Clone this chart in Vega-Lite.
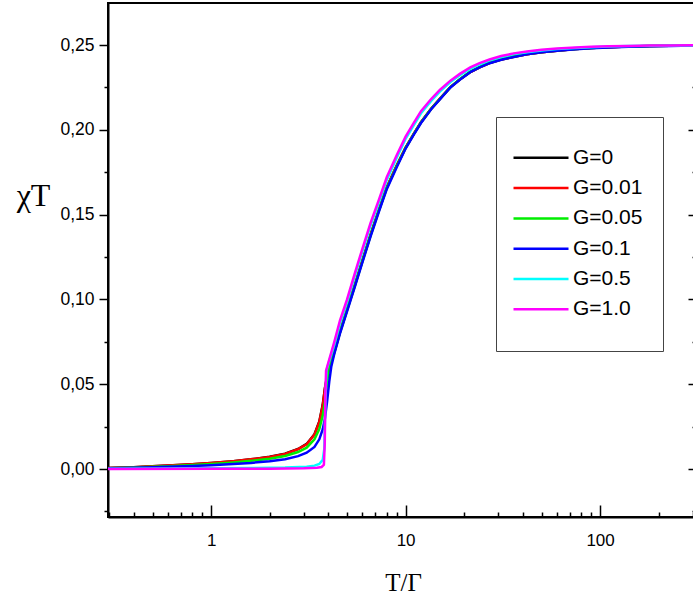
{
"$schema": "https://vega.github.io/schema/vega-lite/v6.json",
"width": 589, "height": 514,
"autosize": "none",
"padding": {"left": 108, "top": 3, "right": 0, "bottom": 87},
"background": "white",
"config": {"view": {"stroke": "black", "strokeWidth": 2}, "font": "Liberation Sans"},
"datasets": {
"curves": [
{"G":"G=0","T":0.295,"chiT":0.0006},{"G":"G=0","T":0.4,"chiT":0.0011},{"G":"G=0","T":0.5,"chiT":0.0016},{"G":"G=0","T":0.6,"chiT":0.0020},{"G":"G=0","T":0.8,"chiT":0.0028},{"G":"G=0","T":1.0,"chiT":0.0035},{"G":"G=0","T":1.3,"chiT":0.0046},{"G":"G=0","T":1.6,"chiT":0.0057},{"G":"G=0","T":2.0,"chiT":0.0072},{"G":"G=0","T":2.4,"chiT":0.0090},{"G":"G=0","T":2.8,"chiT":0.0118},{"G":"G=0","T":3.1,"chiT":0.0148},{"G":"G=0","T":3.4,"chiT":0.0205},{"G":"G=0","T":3.6,"chiT":0.0280},{"G":"G=0","T":3.75,"chiT":0.0380},{"G":"G=0","T":3.85,"chiT":0.0480},
{"G":"G=0","T":4.0,"chiT":0.058},{"G":"G=0","T":4.3,"chiT":0.069},{"G":"G=0","T":4.6,"chiT":0.081},{"G":"G=0","T":5.0,"chiT":0.094},{"G":"G=0","T":5.5,"chiT":0.109},{"G":"G=0","T":6.0,"chiT":0.123},{"G":"G=0","T":6.6,"chiT":0.138},{"G":"G=0","T":7.3,"chiT":0.153},{"G":"G=0","T":8.0,"chiT":0.166},{"G":"G=0","T":9.0,"chiT":0.179},{"G":"G=0","T":10,"chiT":0.1895},{"G":"G=0","T":11,"chiT":0.1975},{"G":"G=0","T":12,"chiT":0.2045},{"G":"G=0","T":13.5,"chiT":0.2123},{"G":"G=0","T":15,"chiT":0.2183},{"G":"G=0","T":17,"chiT":0.2252},{"G":"G=0","T":19,"chiT":0.2297},{"G":"G=0","T":21.5,"chiT":0.2341},{"G":"G=0","T":24,"chiT":0.2369},{"G":"G=0","T":27,"chiT":0.2394},{"G":"G=0","T":31,"chiT":0.2414},{"G":"G=0","T":36,"chiT":0.2431},{"G":"G=0","T":42,"chiT":0.2446},{"G":"G=0","T":50,"chiT":0.2458},{"G":"G=0","T":60,"chiT":0.2467},{"G":"G=0","T":75,"chiT":0.2476},{"G":"G=0","T":90,"chiT":0.2482},{"G":"G=0","T":110,"chiT":0.2487},{"G":"G=0","T":140,"chiT":0.2491},{"G":"G=0","T":180,"chiT":0.2494},{"G":"G=0","T":230,"chiT":0.2496},{"G":"G=0","T":315,"chiT":0.2498},

{"G":"G=0.01","T":0.295,"chiT":0.0006},{"G":"G=0.01","T":0.4,"chiT":0.0011},{"G":"G=0.01","T":0.5,"chiT":0.0016},{"G":"G=0.01","T":0.6,"chiT":0.0020},{"G":"G=0.01","T":0.8,"chiT":0.0028},{"G":"G=0.01","T":1.0,"chiT":0.0035},{"G":"G=0.01","T":1.3,"chiT":0.0046},{"G":"G=0.01","T":1.6,"chiT":0.0057},{"G":"G=0.01","T":2.0,"chiT":0.0071},{"G":"G=0.01","T":2.4,"chiT":0.0089},{"G":"G=0.01","T":2.8,"chiT":0.0117},{"G":"G=0.01","T":3.1,"chiT":0.0146},{"G":"G=0.01","T":3.4,"chiT":0.0203},{"G":"G=0.01","T":3.6,"chiT":0.0277},{"G":"G=0.01","T":3.75,"chiT":0.0375},{"G":"G=0.01","T":3.85,"chiT":0.0475},
{"G":"G=0.01","T":4.0,"chiT":0.058},{"G":"G=0.01","T":4.3,"chiT":0.069},{"G":"G=0.01","T":4.6,"chiT":0.081},{"G":"G=0.01","T":5.0,"chiT":0.094},{"G":"G=0.01","T":5.5,"chiT":0.109},{"G":"G=0.01","T":6.0,"chiT":0.123},{"G":"G=0.01","T":6.6,"chiT":0.138},{"G":"G=0.01","T":7.3,"chiT":0.153},{"G":"G=0.01","T":8.0,"chiT":0.166},{"G":"G=0.01","T":9.0,"chiT":0.179},{"G":"G=0.01","T":10,"chiT":0.1895},{"G":"G=0.01","T":11,"chiT":0.1975},{"G":"G=0.01","T":12,"chiT":0.2045},{"G":"G=0.01","T":13.5,"chiT":0.2123},{"G":"G=0.01","T":15,"chiT":0.2183},{"G":"G=0.01","T":17,"chiT":0.2252},{"G":"G=0.01","T":19,"chiT":0.2297},{"G":"G=0.01","T":21.5,"chiT":0.2341},{"G":"G=0.01","T":24,"chiT":0.2369},{"G":"G=0.01","T":27,"chiT":0.2394},{"G":"G=0.01","T":31,"chiT":0.2414},{"G":"G=0.01","T":36,"chiT":0.2431},{"G":"G=0.01","T":42,"chiT":0.2446},{"G":"G=0.01","T":50,"chiT":0.2458},{"G":"G=0.01","T":60,"chiT":0.2467},{"G":"G=0.01","T":75,"chiT":0.2476},{"G":"G=0.01","T":90,"chiT":0.2482},{"G":"G=0.01","T":110,"chiT":0.2487},{"G":"G=0.01","T":140,"chiT":0.2491},{"G":"G=0.01","T":180,"chiT":0.2494},{"G":"G=0.01","T":230,"chiT":0.2496},{"G":"G=0.01","T":315,"chiT":0.2498},

{"G":"G=0.05","T":0.295,"chiT":0.0005},{"G":"G=0.05","T":0.4,"chiT":0.0009},{"G":"G=0.05","T":0.5,"chiT":0.0013},{"G":"G=0.05","T":0.6,"chiT":0.0017},{"G":"G=0.05","T":0.8,"chiT":0.0024},{"G":"G=0.05","T":1.0,"chiT":0.0030},{"G":"G=0.05","T":1.3,"chiT":0.0039},{"G":"G=0.05","T":1.6,"chiT":0.0048},{"G":"G=0.05","T":2.0,"chiT":0.0061},{"G":"G=0.05","T":2.4,"chiT":0.0077},{"G":"G=0.05","T":2.8,"chiT":0.0100},{"G":"G=0.05","T":3.1,"chiT":0.0126},{"G":"G=0.05","T":3.4,"chiT":0.0175},{"G":"G=0.05","T":3.6,"chiT":0.0235},{"G":"G=0.05","T":3.75,"chiT":0.0315},{"G":"G=0.05","T":3.85,"chiT":0.0400},{"G":"G=0.05","T":3.95,"chiT":0.0510},
{"G":"G=0.05","T":4.0,"chiT":0.0565},{"G":"G=0.05","T":4.3,"chiT":0.0685},{"G":"G=0.05","T":4.6,"chiT":0.0805},{"G":"G=0.05","T":5.0,"chiT":0.0935},{"G":"G=0.05","T":5.5,"chiT":0.1085},{"G":"G=0.05","T":6.0,"chiT":0.1225},{"G":"G=0.05","T":6.6,"chiT":0.1375},{"G":"G=0.05","T":7.3,"chiT":0.1525},{"G":"G=0.05","T":8.0,"chiT":0.1655},{"G":"G=0.05","T":9.0,"chiT":0.1785},{"G":"G=0.05","T":10,"chiT":0.1893},{"G":"G=0.05","T":11,"chiT":0.1973},{"G":"G=0.05","T":12,"chiT":0.2043},{"G":"G=0.05","T":13.5,"chiT":0.2122},{"G":"G=0.05","T":15,"chiT":0.2182},{"G":"G=0.05","T":17,"chiT":0.2252},{"G":"G=0.05","T":19,"chiT":0.2298},{"G":"G=0.05","T":21.5,"chiT":0.2343},{"G":"G=0.05","T":24,"chiT":0.2371},{"G":"G=0.05","T":27,"chiT":0.2396},{"G":"G=0.05","T":31,"chiT":0.2416},{"G":"G=0.05","T":36,"chiT":0.2433},{"G":"G=0.05","T":42,"chiT":0.2448},{"G":"G=0.05","T":50,"chiT":0.2459},{"G":"G=0.05","T":60,"chiT":0.2468},{"G":"G=0.05","T":75,"chiT":0.2477},{"G":"G=0.05","T":90,"chiT":0.2483},{"G":"G=0.05","T":110,"chiT":0.2488},{"G":"G=0.05","T":140,"chiT":0.2492},{"G":"G=0.05","T":180,"chiT":0.2494},{"G":"G=0.05","T":230,"chiT":0.2496},{"G":"G=0.05","T":315,"chiT":0.2497},

{"G":"G=0.1","T":0.295,"chiT":0.0004},{"G":"G=0.1","T":0.4,"chiT":0.0007},{"G":"G=0.1","T":0.5,"chiT":0.0010},{"G":"G=0.1","T":0.6,"chiT":0.0013},{"G":"G=0.1","T":0.8,"chiT":0.0018},{"G":"G=0.1","T":1.0,"chiT":0.0022},{"G":"G=0.1","T":1.3,"chiT":0.0029},{"G":"G=0.1","T":1.6,"chiT":0.0036},{"G":"G=0.1","T":2.0,"chiT":0.0046},{"G":"G=0.1","T":2.4,"chiT":0.0058},{"G":"G=0.1","T":2.8,"chiT":0.0076},{"G":"G=0.1","T":3.1,"chiT":0.0096},{"G":"G=0.1","T":3.4,"chiT":0.0130},{"G":"G=0.1","T":3.6,"chiT":0.0175},{"G":"G=0.1","T":3.75,"chiT":0.0235},{"G":"G=0.1","T":3.85,"chiT":0.0300},{"G":"G=0.1","T":3.95,"chiT":0.0400},{"G":"G=0.1","T":4.05,"chiT":0.0515},{"G":"G=0.1","T":4.15,"chiT":0.0605},
{"G":"G=0.1","T":4.3,"chiT":0.068},{"G":"G=0.1","T":4.6,"chiT":0.080},{"G":"G=0.1","T":5.0,"chiT":0.093},{"G":"G=0.1","T":5.5,"chiT":0.108},{"G":"G=0.1","T":6.0,"chiT":0.122},{"G":"G=0.1","T":6.6,"chiT":0.137},{"G":"G=0.1","T":7.3,"chiT":0.152},{"G":"G=0.1","T":8.0,"chiT":0.165},{"G":"G=0.1","T":9.0,"chiT":0.178},{"G":"G=0.1","T":10,"chiT":0.189},{"G":"G=0.1","T":11,"chiT":0.197},{"G":"G=0.1","T":12,"chiT":0.204},{"G":"G=0.1","T":13.5,"chiT":0.212},{"G":"G=0.1","T":15,"chiT":0.218},{"G":"G=0.1","T":17,"chiT":0.225},{"G":"G=0.1","T":19,"chiT":0.2295},{"G":"G=0.1","T":21.5,"chiT":0.234},{"G":"G=0.1","T":24,"chiT":0.2368},{"G":"G=0.1","T":27,"chiT":0.2393},{"G":"G=0.1","T":31,"chiT":0.2413},{"G":"G=0.1","T":36,"chiT":0.2430},{"G":"G=0.1","T":42,"chiT":0.2445},{"G":"G=0.1","T":50,"chiT":0.2457},{"G":"G=0.1","T":60,"chiT":0.2466},{"G":"G=0.1","T":75,"chiT":0.2475},{"G":"G=0.1","T":90,"chiT":0.2481},{"G":"G=0.1","T":110,"chiT":0.2486},{"G":"G=0.1","T":140,"chiT":0.2490},{"G":"G=0.1","T":180,"chiT":0.2493},{"G":"G=0.1","T":230,"chiT":0.2495},{"G":"G=0.1","T":315,"chiT":0.2497},

{"G":"G=0.5","T":0.295,"chiT":0.0002},{"G":"G=0.5","T":0.6,"chiT":0.0003},{"G":"G=0.5","T":1.0,"chiT":0.0004},{"G":"G=0.5","T":1.6,"chiT":0.0006},{"G":"G=0.5","T":2.4,"chiT":0.0009},{"G":"G=0.5","T":3.1,"chiT":0.0014},{"G":"G=0.5","T":3.4,"chiT":0.0020},{"G":"G=0.5","T":3.6,"chiT":0.0030},{"G":"G=0.5","T":3.75,"chiT":0.0055},{"G":"G=0.5","T":3.82,"chiT":0.0120},{"G":"G=0.5","T":3.87,"chiT":0.0400},{"G":"G=0.5","T":3.92,"chiT":0.0580},
{"G":"G=0.5","T":4.0,"chiT":0.0615},{"G":"G=0.5","T":4.3,"chiT":0.0735},{"G":"G=0.5","T":4.6,"chiT":0.086},{"G":"G=0.5","T":5.0,"chiT":0.0985},{"G":"G=0.5","T":5.5,"chiT":0.1145},{"G":"G=0.5","T":6.0,"chiT":0.1285},{"G":"G=0.5","T":6.6,"chiT":0.1435},{"G":"G=0.5","T":7.3,"chiT":0.1575},{"G":"G=0.5","T":8.0,"chiT":0.1705},{"G":"G=0.5","T":9.0,"chiT":0.1835},{"G":"G=0.5","T":10,"chiT":0.1947},{"G":"G=0.5","T":11,"chiT":0.2027},{"G":"G=0.5","T":12,"chiT":0.2098},{"G":"G=0.5","T":13.5,"chiT":0.2169},{"G":"G=0.5","T":15,"chiT":0.2225},{"G":"G=0.5","T":17,"chiT":0.2282},{"G":"G=0.5","T":19,"chiT":0.2322},{"G":"G=0.5","T":21.5,"chiT":0.2361},{"G":"G=0.5","T":24,"chiT":0.2387},{"G":"G=0.5","T":27,"chiT":0.2410},{"G":"G=0.5","T":31,"chiT":0.2430},{"G":"G=0.5","T":36,"chiT":0.2447},{"G":"G=0.5","T":42,"chiT":0.2458},{"G":"G=0.5","T":50,"chiT":0.2468},{"G":"G=0.5","T":60,"chiT":0.2476},{"G":"G=0.5","T":75,"chiT":0.2483},{"G":"G=0.5","T":90,"chiT":0.2487},{"G":"G=0.5","T":110,"chiT":0.2491},{"G":"G=0.5","T":140,"chiT":0.2494},{"G":"G=0.5","T":180,"chiT":0.2496},{"G":"G=0.5","T":230,"chiT":0.2497},{"G":"G=0.5","T":315,"chiT":0.2498},

{"G":"G=1.0","T":0.295,"chiT":0.0000},{"G":"G=1.0","T":1.0,"chiT":0.0001},{"G":"G=1.0","T":2.0,"chiT":0.0002},{"G":"G=1.0","T":3.0,"chiT":0.0004},{"G":"G=1.0","T":3.5,"chiT":0.0007},{"G":"G=1.0","T":3.7,"chiT":0.0012},{"G":"G=1.0","T":3.8,"chiT":0.0025},{"G":"G=1.0","T":3.84,"chiT":0.0150},{"G":"G=1.0","T":3.87,"chiT":0.0450},{"G":"G=1.0","T":3.9,"chiT":0.0580},
{"G":"G=1.0","T":4.0,"chiT":0.0625},{"G":"G=1.0","T":4.3,"chiT":0.075},{"G":"G=1.0","T":4.6,"chiT":0.0877},{"G":"G=1.0","T":5.0,"chiT":0.100},{"G":"G=1.0","T":5.5,"chiT":0.116},{"G":"G=1.0","T":6.0,"chiT":0.130},{"G":"G=1.0","T":6.6,"chiT":0.145},{"G":"G=1.0","T":7.3,"chiT":0.159},{"G":"G=1.0","T":8.0,"chiT":0.172},{"G":"G=1.0","T":9.0,"chiT":0.185},{"G":"G=1.0","T":10,"chiT":0.196},{"G":"G=1.0","T":11,"chiT":0.204},{"G":"G=1.0","T":12,"chiT":0.211},{"G":"G=1.0","T":13.5,"chiT":0.218},{"G":"G=1.0","T":15,"chiT":0.2235},{"G":"G=1.0","T":17,"chiT":0.229},{"G":"G=1.0","T":19,"chiT":0.2330},{"G":"G=1.0","T":21.5,"chiT":0.2368},{"G":"G=1.0","T":24,"chiT":0.2393},{"G":"G=1.0","T":27,"chiT":0.2415},{"G":"G=1.0","T":31,"chiT":0.2435},{"G":"G=1.0","T":36,"chiT":0.2451},{"G":"G=1.0","T":42,"chiT":0.2462},{"G":"G=1.0","T":50,"chiT":0.2472},{"G":"G=1.0","T":60,"chiT":0.2479},{"G":"G=1.0","T":75,"chiT":0.2486},{"G":"G=1.0","T":90,"chiT":0.2490},{"G":"G=1.0","T":110,"chiT":0.2493},{"G":"G=1.0","T":140,"chiT":0.2495},{"G":"G=1.0","T":180,"chiT":0.2497},{"G":"G=1.0","T":230,"chiT":0.2498},{"G":"G=1.0","T":315,"chiT":0.2499}
]
},
"data": {"name": "curves"},
"encoding": {
  "x": {"field": "T", "type": "quantitative",
    "scale": {"type": "log", "domain": [0.295, 315], "nice": false},
    "axis": {
      "title": "T/Γ", "titleFont": "Liberation Serif", "titleFontSize": 25, "titleFontWeight": "normal", "titleColor": "black",
      "titleX": 295, "titleY": 65, "titleAlign": "center", "titleBaseline": "middle", "titleAnchor": null,
      "values": [0.3,0.4,0.5,0.6,0.7,0.8,0.9,1,2,3,4,5,6,7,8,9,10,20,30,40,50,60,70,80,90,100,200,300],
      "labelExpr": "indexof([1,10,100], datum.value) >= 0 ? format(datum.value, 'd') : ''",
      "labelOverlap": false, "labelFlush": false, "labelBound": false,
      "labelFontSize": 17, "labelColor": "black", "labelFont": "Liberation Sans", "labelPadding": 27,
      "tickSize": {"condition": {"test": "indexof([1,10,100], datum.value) >= 0", "value": -12}, "value": -5},
      "tickColor": "black", "tickWidth": 1.5,
      "domainColor": "black", "domainWidth": 2, "grid": false
    }
  }
},
"layer": [
  {
    "mark": {"type": "line", "strokeWidth": 2.5, "clip": true},
    "encoding": {
      "y": {"field": "chiT", "type": "quantitative",
        "scale": {"domain": [-0.0283, 0.2748], "nice": false, "zero": false},
        "axis": {
          "orient": "left",
          "title": "χT", "titleFont": "Liberation Serif", "titleFontSize": 32, "titleFontWeight": "normal", "titleColor": "black",
          "titleAngle": 0, "titleX": -75, "titleY": 192, "titleAlign": "center", "titleBaseline": "middle", "titleAnchor": null,
          "values": [-0.025,0,0.025,0.05,0.075,0.1,0.125,0.15,0.175,0.2,0.225,0.25],
          "labelExpr": "abs(datum.value*20 - round(datum.value*20)) < 0.001 ? replace(format(datum.value, '.2f'), '.', ',') : ''",
          "labelOverlap": false, "labelFlush": false, "labelBound": false,
          "labelFontSize": 17.5, "labelColor": "black", "labelFont": "Liberation Sans", "labelPadding": 5,
          "tickSize": {"condition": {"test": "abs(datum.value*20 - round(datum.value*20)) < 0.001", "value": 9}, "value": 4},
          "tickColor": "black", "tickWidth": 1.5,
          "domainColor": "black", "domainWidth": 2, "grid": false
        }
      },
      "color": {"field": "G", "type": "nominal",
        "scale": {"domain": ["padA","G=0","G=0.01","G=0.05","G=0.1","G=0.5","G=1.0","padZ"],
                  "range": ["#ffffff","#000000","#ff0000","#00ee00","#0000ff","#00ffff","#ff00ff","#ffffff"]},
        "legend": {
          "orient": "none", "legendX": 388, "legendY": 114,
          "title": null, "padding": 0,
          "symbolType": "stroke", "symbolSize": 3025, "symbolStrokeWidth": 2.5, "symbolOffset": 16,
          "labelOffset": 3, "clipHeight": 21, "rowPadding": 8.3,
          "labelFontSize": 21, "labelFont": "Liberation Sans", "labelColor": "black", "labelLimit": 300,
          "labelExpr": "datum.label == 'padA' || datum.label == 'padZ' ? '\u2800\u2800\u2800\u2800\u2800\u2800' : datum.label",
          "strokeColor": "#444444", "fillColor": "white"
        }
      }
    }
  },
  {
    "mark": {"type": "point", "opacity": 0},
    "encoding": {
      "y": {"field": "chiT", "type": "quantitative",
        "scale": {"domain": [-0.0283, 0.2748], "nice": false, "zero": false},
        "axis": {
          "orient": "right", "title": null, "labels": false,
          "values": [-0.025,0,0.025,0.05,0.075,0.1,0.125,0.15,0.175,0.2,0.225,0.25],
          "tickSize": {"condition": {"test": "abs(datum.value*20 - round(datum.value*20)) < 0.001", "value": -9}, "value": -5},
          "tickColor": "black", "tickWidth": 1.5,
          "domainColor": "black", "domainWidth": 2, "grid": false
        }
      }
    }
  }
],
"resolve": {"axis": {"y": "independent"}}
}
